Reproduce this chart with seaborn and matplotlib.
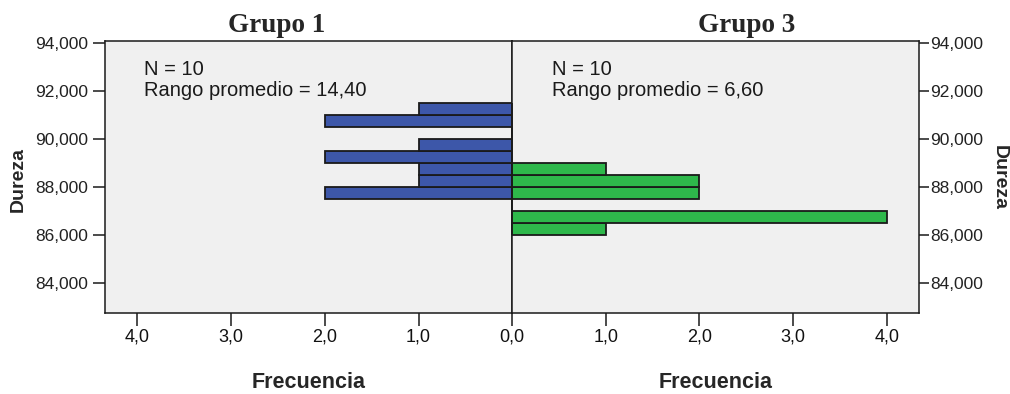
import matplotlib
matplotlib.use("Agg")
import matplotlib.pyplot as plt
from matplotlib.ticker import FuncFormatter, FixedLocator
import seaborn as sns
import numpy as np

# ---- data ----
bin_edges = [86.0, 86.5, 87.0, 87.5, 88.0, 88.5, 89.0, 89.5, 90.0, 90.5, 91.0, 91.5]
grupo1_freq = [0, 0, 0, 2, 1, 1, 2, 1, 0, 2, 1]
grupo3_freq = [1, 4, 0, 2, 2, 1, 0, 0, 0, 0, 0]
panel_titles = ["Grupo 1", "Grupo 3"]
panel_notes = [("N = 10", "Rango promedio = 14,40"), ("N = 10", "Rango promedio = 6,60")]
y_ticks = [84, 86, 88, 90, 92, 94]
x_ticks_left = [0, 1, 2, 3, 4]
x_ticks_right = [1, 2, 3, 4]
y_label = "Dureza"
x_label = "Frecuencia"

blue = "#3D57A9"
green = "#2EB84B"
panel_bg = "#F0F0F0"
dark = "#1A1A1A"

sns.set_theme(style="white")
plt.rcParams["font.family"] = ["Liberation Sans", "DejaVu Sans"]

fig = plt.figure(figsize=(10.10, 3.94), dpi=100)
bottom = 1 - 313.3 / 394
height = (313.3 - 41.0) / 394
ax1 = fig.add_axes([104.7 / 1010, bottom, (512.3 - 104.7) / 1010, height])
ax2 = fig.add_axes([512.3 / 1010, bottom, (918.5 - 512.3) / 1010, height])

centers = [(bin_edges[i] + bin_edges[i + 1]) / 2 for i in range(len(bin_edges) - 1)]

for ax, freq, color in [(ax1, grupo1_freq, blue), (ax2, grupo3_freq, green)]:
    ax.set_facecolor(panel_bg)
    sns.histplot(y=centers, weights=freq, bins=bin_edges, ax=ax, color=color,
                 edgecolor=dark, linewidth=1.3, alpha=1.0)
    ax.set_ylim(82.74, 94.08)
    ax.set_xlabel("")
    ax.set_ylabel("")
    for s in ax.spines.values():
        s.set_visible(True)
        s.set_color(dark)
        s.set_linewidth(1.1)
    ax.yaxis.set_major_locator(FixedLocator(y_ticks))
    ax.yaxis.set_major_formatter(FuncFormatter(lambda v, p: f"{v:,.3f}".replace(",", "X").replace(".", ",").replace("X", ".")))
    ax.xaxis.set_major_formatter(FuncFormatter(lambda v, p: f"{v:.1f}".replace(".", ",")))
    ax.tick_params(axis="x", direction="out", length=9, width=1.1, color=dark,
                   labelsize=13, labelcolor="#111111", pad=2, bottom=True)
    ax.grid(False)

ax1.set_xlim(4.35, 0)
ax1.xaxis.set_major_locator(FixedLocator(x_ticks_left))
ax2.set_xlim(0, 4.34)
ax2.xaxis.set_major_locator(FixedLocator(x_ticks_right))

ax1.tick_params(axis="y", direction="out", length=8.5, width=1.1, color=dark,
                labelsize=12.5, labelcolor="#222222", pad=3.5, left=True, right=False)
ax2.yaxis.tick_right()
ax2.tick_params(axis="y", direction="out", length=7.5, width=1.1, color=dark,
                labelsize=12.5, labelcolor="#222222", pad=1, right=True, left=False)
ax2.tick_params(axis="y", labelleft=False)

for ax, (l1, l2) in zip([ax1, ax2], panel_notes):
    ax.text(0.097, 0.874, l1, transform=ax.transAxes, ha="left", va="baseline",
            fontsize=14.5, color="#1A1A1A")
    ax.text(0.097, 0.797, l2, transform=ax.transAxes, ha="left", va="baseline",
            fontsize=14.5, color="#1A1A1A")

# titles
fig.text(277 / 1010, 1 - 31.7 / 394, panel_titles[0], ha="center", va="baseline",
         fontsize=19.5, fontweight="bold", family=["Liberation Serif", "DejaVu Serif"])
fig.text(746.5 / 1010, 1 - 31.7 / 394, panel_titles[1], ha="center", va="baseline",
         fontsize=19.5, fontweight="bold", family=["Liberation Serif", "DejaVu Serif"])

# axis labels
fig.text(18.5 / 1010, 1 - 179 / 394, y_label, rotation=90, ha="center", va="center",
         fontsize=14, fontweight="bold")
fig.text(999 / 1010, 1 - 177.5 / 394, y_label, rotation=-90, ha="center", va="center",
         fontsize=14, fontweight="bold")
fig.text(308.5 / 1010, 1 - 387.7 / 394, x_label, ha="center", va="baseline",
         fontsize=15.5, fontweight="bold")
fig.text(715.4 / 1010, 1 - 387.7 / 394, x_label, ha="center", va="baseline",
         fontsize=15.5, fontweight="bold")

fig.savefig("out.png", dpi=100, facecolor="white")
